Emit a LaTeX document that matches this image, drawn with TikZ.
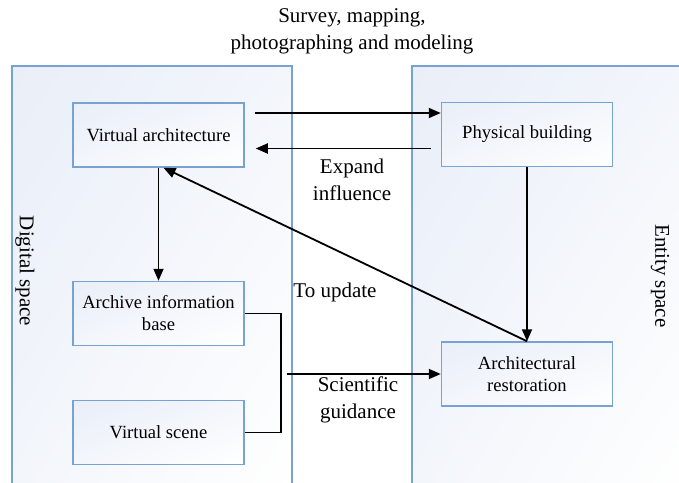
\documentclass[tikz,border=0pt]{standalone}
\usepackage{fontspec}
\setmainfont{Liberation Serif}
\usetikzlibrary{arrows.meta,calc,shadings}
\definecolor{sp_blue}{RGB}{120, 162, 212}
\definecolor{sp_fill}{RGB}{233, 238, 248}
\definecolor{sp_mid}{RGB}{243, 246, 251}
\tikzstyle{panel}=[draw=sp_blue,line width=0.75pt,upper left=sp_fill,
  upper right=sp_mid,lower left=sp_mid,lower right=white]
\tikzstyle{box}=[rectangle,draw=sp_blue,line width=0.75pt,upper left=sp_fill,
  upper right=sp_mid,lower left=sp_mid,lower right=white,align=center,
  minimum width=85.5pt,minimum height=32pt,inner sep=2pt,
  font=\fontsize{9.3}{11}\selectfont]
\tikzstyle{lbl}=[align=center,inner sep=0pt,font=\fontsize{10.5}{13.3}\selectfont]
\tikzstyle{arr}=[line width=0.9pt,-{Triangle[length=6pt,width=5pt]}]
\tikzstyle{ln}=[line width=0.9pt]
\tikzstyle{none}=[]

\begin{document}
\begin{tikzpicture}[x=0.5pt, y=-0.5pt]
            \useasboundingbox (0, 0) rectangle (679, 482);
            \clip (0, 0) rectangle (679, 482);
            \shade [style=panel] (12, 66) rectangle (292, 492);
            \shade [style=panel] (412, 66) rectangle (692, 492);
            \node [style=box, shade] (1) at (158.5, 135) {Virtual architecture};
            \node [style=box, shade] (2) at (527, 134.5) {Physical building};
            \node [style=box, shade] (3) at (158.5, 313.5) {Archive information\\base};
            \node [style=box, shade] (4) at (158.5, 432.5) {Virtual scene};
            \node [style=box, shade] (5) at (527, 374) {Architectural\\restoration};
            \coordinate (6) at (281, 374);
            \coordinate (7) at (287, 374);
            \node [style=lbl] (8) at (352, 31.5) {Survey, mapping,\\photographing and modeling};
            \node [style=lbl] (9) at (352, 180) {Expand\\influence};
            \node [style=lbl, anchor=west] (10) at (293, 292) {To update};
            \node [style=lbl] (11) at (358, 400) {Scientific\\guidance};
            \node [style=lbl, rotate=-90] (12) at (25, 271) {Digital space};
            \node [style=lbl, rotate=-90] (13) at (660, 276) {Entity space};
            \draw [style=arr, shorten <=5pt] ([yshift=11pt]1.east) to ([yshift=11pt]1.east -| 2.west);
            \draw [style=arr, shorten <=5pt, shorten >=5.5pt] ([yshift=-7pt]2.west) to ([yshift=-7pt]2.west -| 1.east);
            \draw [style=arr] (1) to (3);
            \draw [style=arr] (2) to (5);
            \draw [style=arr] (5.north) to ([xshift=2.5pt]1.south);
            \draw [style=ln] (3.east) -| (6) |- (4.east);
            \draw [style=arr] (7) to (5.west);
    \end{tikzpicture}
\end{document}
